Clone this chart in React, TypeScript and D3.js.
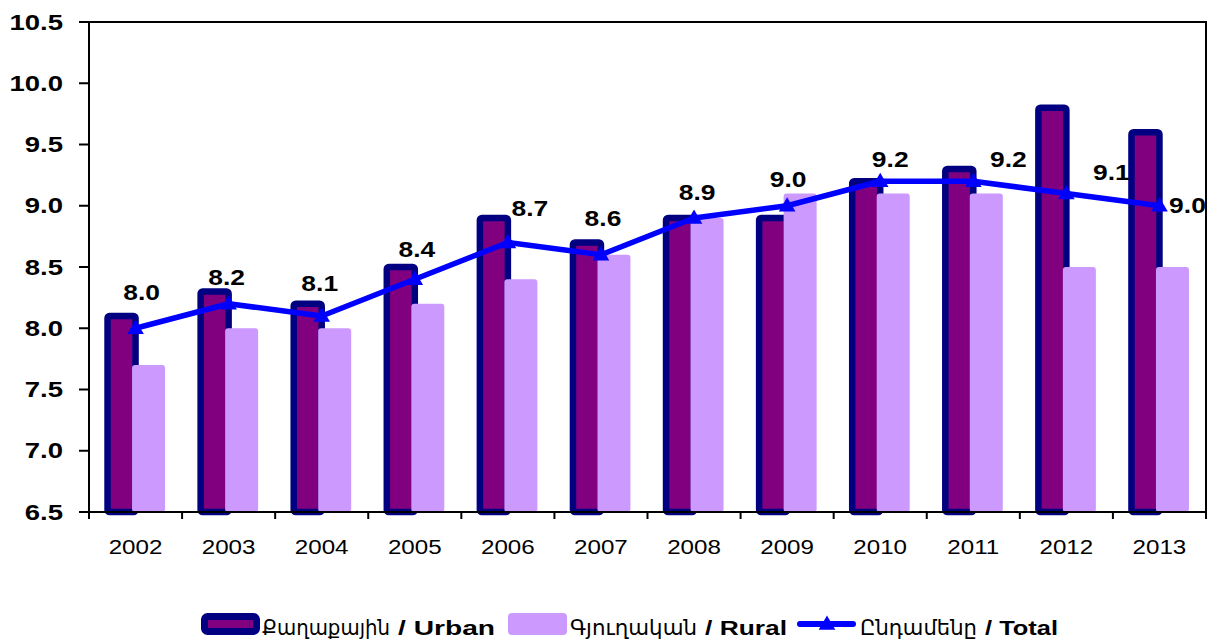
import React from "react";
import * as d3 from "d3";

const WIDTH = 1214;
const HEIGHT = 644;

// data
const years = ["2002", "2003", "2004", "2005", "2006", "2007", "2008", "2009", "2010", "2011", "2012", "2013"];
const urban = [8.1, 8.3, 8.2, 8.5, 8.9, 8.7, 8.9, 8.9, 9.2, 9.3, 9.8, 9.6];
const rural = [7.7, 8.0, 8.0, 8.2, 8.4, 8.6, 8.9, 9.1, 9.1, 9.1, 8.5, 8.5];
const total = [8.0, 8.2, 8.1, 8.4, 8.7, 8.6, 8.9, 9.0, 9.2, 9.2, 9.1, 9.0];
const yTicks = [6.5, 7.0, 7.5, 8.0, 8.5, 9.0, 9.5, 10.0, 10.5];
const legendArm = ["Քաղաքային", "Գյուղական", "Ընդամենը"];
const legendEng = ["/ Urban", "/ Rural", "/ Total"];

// hand placed label nudges (like Excel's dragged data labels)
const labelNudge: [number, number][] = [
  [6, -36], [-2, -26], [-2, -33], [2, -30], [22, -34], [2, -36],
  [3, -26], [1, -26], [10, -22], [35, -22], [45, -21], [28, 0],
];

// legend text slots: [armenian x, armenian width, latin x, latin width]
const legendSlots = [
  [262, 128, 398, 97],
  [570, 127, 705, 82],
  [860, 117, 985, 73],
];

const FONT = "'Liberation Sans', Arial, 'DejaVu Sans', sans-serif";
const margin = { top: 22, right: 8, bottom: 132, left: 89 };

// the reference text is a bit wider than plain Arial, so stretch it sideways
function WideText(props: {
  x: number; y: number; sx?: number; anchor?: string; size: number; bold?: boolean; children: React.ReactNode;
}) {
  const { x, y, sx = 1.2, anchor = "middle", size, bold, children } = props;
  return (
    <g transform={`translate(${x},${y}) scale(${sx},1)`}>
      <text textAnchor={anchor} dy="0.35em" fontSize={size} fontWeight={bold ? "bold" : "normal"}>
        {children}
      </text>
    </g>
  );
}

export default function App() {
  const innerW = WIDTH - margin.left - margin.right;
  const innerH = HEIGHT - margin.top - margin.bottom;

  const x = d3.scaleBand().domain(years).range([0, innerW]);
  const y = d3.scaleLinear().domain([6.5, 10.5]).range([innerH, 0]);
  const bw = x.bandwidth();
  const cx = (d: string) => (x(d) as number) + bw / 2;

  const line = d3
    .line<number>()
    .x((_, i) => cx(years[i]))
    .y((d) => y(d));

  const tri = d3.symbol().type(d3.symbolTriangle).size(120)();

  return (
    <svg
      width={WIDTH}
      height={HEIGHT}
      style={{ position: "absolute", left: 0, top: 0, background: "#fff" }}
      fontFamily={FONT}
    >
      <g transform={`translate(${margin.left},${margin.top})`}>
        {/* bars */}
        {years.map((yr, i) => (
          <g key={yr}>
            <rect
              x={cx(yr) - 28}
              y={y(urban[i])}
              width={28}
              height={innerH - y(urban[i])}
              fill="#800080"
              stroke="#000080"
              strokeWidth={6.5}
              rx={2}
            />
            <rect
              x={cx(yr) - 3.5}
              y={y(rural[i])}
              width={33}
              height={innerH - y(rural[i])}
              fill="#CC99FF"
              rx={3}
            />
          </g>
        ))}

        {/* frame */}
        <rect x={0} y={0} width={innerW} height={innerH} fill="none" stroke="#000" strokeWidth={2} />

        {/* y axis */}
        {yTicks.map((t) => (
          <g key={t}>
            <line x1={-10} x2={0} y1={y(t)} y2={y(t)} stroke="#000" strokeWidth={2} />
            <WideText x={-26} y={y(t)} sx={1.25} anchor="end" size={22} bold>
              {t.toFixed(1)}
            </WideText>
          </g>
        ))}

        {/* x axis */}
        {[...years.map((yr) => x(yr) as number), innerW].map((px, i) => (
          <line key={"t" + i} x1={px} x2={px} y1={innerH} y2={innerH + 7} stroke="#000" strokeWidth={2} />
        ))}
        {years.map((yr) => (
          <WideText key={"l" + yr} x={cx(yr)} y={innerH + 35} sx={1.15} size={21}>
            {yr}
          </WideText>
        ))}

        {/* total line */}
        <path d={line(total) ?? ""} fill="none" stroke="#0000FF" strokeWidth={5.5} strokeLinejoin="round" />
        {total.map((v, i) => (
          <path key={"m" + i} d={tri ?? ""} transform={`translate(${cx(years[i])},${y(v) + 1})`} fill="#0000FF" />
        ))}
        {total.map((v, i) => (
          <WideText
            key={"v" + i}
            x={cx(years[i]) + labelNudge[i][0]}
            y={y(v) + labelNudge[i][1]}
            size={22}
            bold
          >
            {v.toFixed(1)}
          </WideText>
        ))}
      </g>

      {/* legend */}
      <g fontSize={21} fontWeight="bold">
        <rect x={204.5} y={616.5} width={52} height={15} fill="#800080" stroke="#000080" strokeWidth={7} rx={3} />
        <rect x={508} y={613} width={59} height={22} fill="#CC99FF" rx={4} />
        <line x1={800} x2={853} y1={624} y2={624} stroke="#0000FF" strokeWidth={6} strokeLinecap="round" />
        <path d={tri ?? ""} transform="translate(827,625)" fill="#0000FF" />
        {legendSlots.map((s, i) => (
          <g key={"lg" + i}>
            <text x={s[0]} y={635} fontWeight="normal" textLength={s[1]} lengthAdjust="spacingAndGlyphs">
              {legendArm[i]}
            </text>
            <text x={s[2]} y={635} textLength={s[3]} lengthAdjust="spacingAndGlyphs">
              {legendEng[i]}
            </text>
          </g>
        ))}
      </g>
    </svg>
  );
}
